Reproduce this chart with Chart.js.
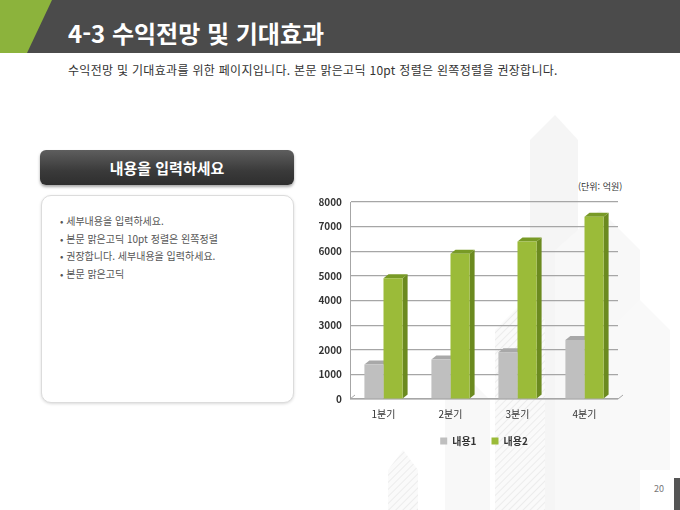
<!DOCTYPE html>
<html lang="ko">
<head>
<meta charset="utf-8">
<script src="https://cdn.jsdelivr.net/npm/chart.js@4.4.1/dist/chart.umd.min.js"></script>
<style>
  html, body { margin: 0; padding: 0; }
  body { width: 680px; height: 510px; position: relative; overflow: hidden; background: #fff;
         font-family: "Noto Sans CJK KR", "Noto Sans", sans-serif; }
  #bg { position: absolute; left: 0; top: 0; }
  #header { position: absolute; left: 0; top: 0; width: 680px; height: 53px; background: #4b4b4b; }
  #title { position: absolute; left: 68px; top: 18px; color: #fff; font-size: 24px; font-weight: bold; line-height: 30px; }
  #subtitle { position: absolute; left: 68px; top: 62px; color: #333; font-size: 12px; line-height: 16px; letter-spacing: 0.3px; }
  #btn { position: absolute; left: 40px; top: 150px; width: 254px; height: 35px; border-radius: 6px;
         background: linear-gradient(#5e5e5e, #3a3a3a 60%, #2e2e2e); box-shadow: 0 2px 3px rgba(0,0,0,0.35);
         color: #fff; font-weight: bold; font-size: 15px; text-align: center; line-height: 35px; }
  #box { position: absolute; left: 41px; top: 195px; width: 251px; height: 206px; border: 1px solid #dcdcdc;
         border-radius: 10px; box-shadow: 0 1px 3px rgba(0,0,0,0.15); background: #fff; }
  #box ul { margin: 0; padding: 0; list-style: none; position: absolute; left: 18px; top: 16px; }
  #box li { font-size: 10px; color: #555; line-height: 17.5px; }
  #unit { position: absolute; left: 578px; top: 180px; font-size: 9px; color: #333; }
  #chartWrap { position: absolute; left: 300px; top: 188px; width: 332px; height: 268px; }
  #page { position: absolute; left: 654px; top: 482px; font-size: 9px; color: #777; }
  #pagebar { position: absolute; left: 674px; top: 478px; width: 6px; height: 32px; background: #555; }
</style>
</head>
<body>
<svg id="bg" width="680" height="510">
  <defs>
    <pattern id="hatch" width="5" height="5" patternUnits="userSpaceOnUse" patternTransform="rotate(45)">
      <rect width="5" height="5" fill="#fafafa"/>
      <line x1="0" y1="0" x2="0" y2="5" stroke="#ececec" stroke-width="2"/>
    </pattern>
  </defs>
  <polygon points="530,140 555,115 578,140 578,510 530,510" fill="#f5f5f5"/>
  <polygon points="555,250 600,210 640,250 640,510 555,510" fill="#f8f8f8"/>
  <polygon points="610,330 640,300 670,330 670,470 610,470" fill="#f9f9f9"/>
  <polygon points="495,330 525,300 545,320 545,510 495,510" fill="url(#hatch)"/>
  <polygon points="388,470 403,450 418,470 418,510 388,510" fill="url(#hatch)"/>
  <polygon points="445,400 470,380 490,400 490,510 445,510" fill="#f8f8f8"/>
</svg>
<div id="header"></div>
<svg style="position:absolute;left:0;top:0" width="60" height="53">
  <polygon points="0,0 52,0 27,53 0,53" fill="#8cb33c"/>
</svg>
<div id="title">4-3 수익전망 및 기대효과</div>
<div id="subtitle">수익전망 및 기대효과를 위한 페이지입니다. 본문 맑은고딕 10pt 정렬은 왼쪽정렬을 권장합니다.</div>
<div id="btn">내용을 입력하세요</div>
<div id="box">
  <ul>
    <li>• 세부내용을 입력하세요.</li>
    <li>• 본문 맑은고딕 10pt 정렬은 왼쪽정렬</li>
    <li>• 권장합니다. 세부내용을 입력하세요.</li>
    <li>• 본문 맑은고딕</li>
  </ul>
</div>
<div id="unit">(단위: 억원)</div>
<div id="chartWrap"><canvas id="barChart"></canvas></div>
<div id="page">20</div>
<div id="pagebar"></div>
<script>
// chart data
var quarters = ["1분기", "2분기", "3분기", "4분기"];
var content1 = [1400, 1600, 1900, 2400];
var content2 = [4900, 5900, 6400, 7400];
var yTicks = [0, 1000, 2000, 3000, 4000, 5000, 6000, 7000, 8000];

var sideColors = ["#9a9a9a", "#6b8a1f"];
var topColors = ["#a8a8a8", "#789a26"];
var DX = 5, DY = 4;

// draws the top and side faces so the bars look like the 3D ones
var bar3d = {
    id: 'bar3d',
    beforeDatasetsDraw: function (chart) {
        var ctx = chart.ctx;
        var area = chart.chartArea;
        // floor
        ctx.save();
        ctx.strokeStyle = '#a6a6a6';
        ctx.lineWidth = 1;
        ctx.beginPath();
        ctx.moveTo(area.left, area.bottom);
        ctx.lineTo(area.right, area.bottom);
        ctx.lineTo(area.right + DX, area.bottom - DY);
        ctx.moveTo(area.left, area.bottom);
        ctx.lineTo(area.left + DX, area.bottom - DY);
        ctx.stroke();
        ctx.restore();
        chart.data.datasets.forEach(function (ds, i) {
            var meta = chart.getDatasetMeta(i);
            meta.data.forEach(function (bar) {
                var p = bar.getProps(['x', 'y', 'base', 'width'], true);
                var l = p.x - p.width / 2, r = p.x + p.width / 2;
                ctx.save();
                ctx.fillStyle = sideColors[i];
                ctx.beginPath();
                ctx.moveTo(r, p.y);
                ctx.lineTo(r + DX, p.y - DY);
                ctx.lineTo(r + DX, p.base - DY);
                ctx.lineTo(r, p.base);
                ctx.closePath();
                ctx.fill();
                ctx.fillStyle = topColors[i];
                ctx.beginPath();
                ctx.moveTo(l, p.y);
                ctx.lineTo(l + DX, p.y - DY);
                ctx.lineTo(r + DX, p.y - DY);
                ctx.lineTo(r, p.y);
                ctx.closePath();
                ctx.fill();
                ctx.restore();
            });
        });
    }
};

document.addEventListener('DOMContentLoaded', function () {
    var ctxB = document.getElementById("barChart").getContext('2d');
    new Chart(ctxB, {
        type: 'bar',
        data: {
            labels: quarters,
            datasets: [
                { label: "내용1", data: content1, backgroundColor: '#bfbfbf' },
                { label: "내용2", data: content2, backgroundColor: '#9bbb39' }
            ]
        },
        options: {
            responsive: true,
            maintainAspectRatio: false,
            animation: false,
            layout: { padding: { top: 2, right: 14, left: 0, bottom: 0 } },
            datasets: { bar: { barPercentage: 1, categoryPercentage: 0.57 } },
            plugins: {
                tooltip: { enabled: false },
                legend: {
                    position: 'bottom',
                    fullSize: false,
                    labels: {
                        boxWidth: 7, boxHeight: 7, padding: 15,
                        color: '#333',
                        font: { family: "Noto Sans CJK KR", size: 10, weight: 'bold' }
                    }
                }
            },
            scales: {
                x: {
                    grid: { display: false },
                    border: { display: false },
                    ticks: { color: '#333', padding: 1, font: { family: "Noto Sans CJK KR", size: 10 } }
                },
                y: {
                    min: 0, max: 8000,
                    afterBuildTicks: function (scale) {
                        scale.ticks = yTicks.map(function (v) { return { value: v }; });
                    },
                    afterFit: function (scale) { scale.width = 50; },
                    grid: { color: '#a6a6a6', lineWidth: 1.2, drawTicks: false },
                    border: { display: true, color: '#a6a6a6' },
                    ticks: {
                        color: '#333', padding: 8,
                        font: { family: "Noto Sans CJK KR", size: 10, weight: 'bold' },
                        callback: function (v) { return String(v); }
                    }
                }
            }
        },
        plugins: [bar3d]
    });
});
</script>
</body>
</html>
